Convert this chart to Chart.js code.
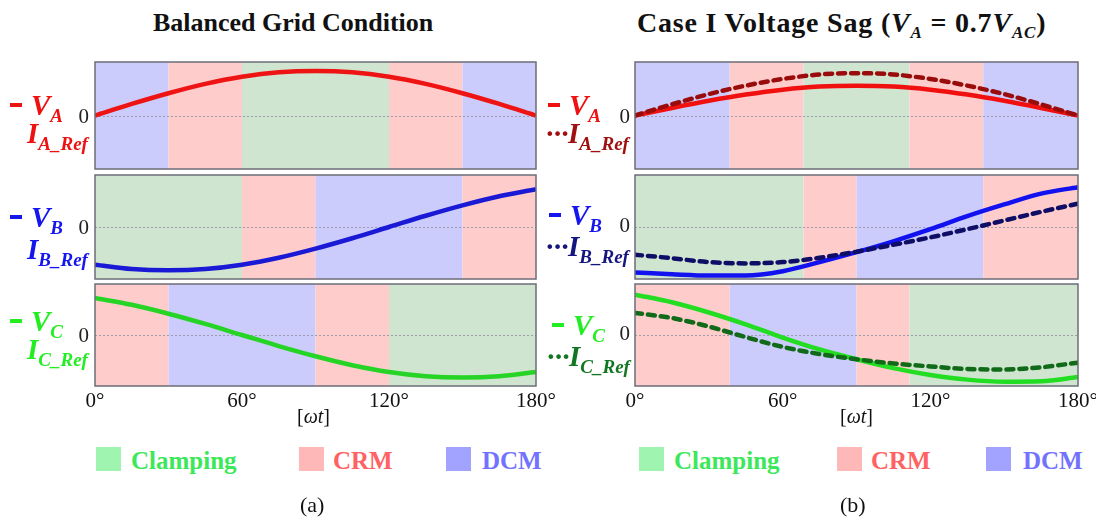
<!DOCTYPE html>
<html>
<head>
<meta charset="utf-8">
<script src="https://cdn.jsdelivr.net/npm/chart.js@4.4.1/dist/chart.umd.min.js"></script>
<style>
    html, body { margin: 0; padding: 0; background: #fff; width: 1096px; height: 523px; overflow: hidden; }
    body { position: relative; font-family: 'Liberation Serif', 'Times New Roman', serif; }
    canvas { position: absolute; }
    .abs { position: absolute; white-space: nowrap; }
    .title { font-weight: bold; font-size: 26px; line-height: 30px; color: #111; }
    .title .s { font-size: 17px; position: relative; top: 6px; }
    .lab { position: absolute; white-space: nowrap; font-weight: bold; font-style: italic; font-size: 29px; line-height: 27px; }
    .lab .s { font-size: 19px; position: relative; top: 7px; }
    .mk { display: inline-block; width: 12px; height: 4px; margin-right: 9px; position: relative; top: -8px; }
    .dots { font-style: normal; margin-right: 0; letter-spacing: -2px; }
    .zero { position: absolute; width: 20px; text-align: right; font-size: 21px; line-height: 22px; color: #222; }
    .sw { position: absolute; width: 25px; height: 24px; }
    .lg { position: absolute; font-weight: bold; font-size: 25px; line-height: 25px; }
    .cap { position: absolute; font-size: 22px; line-height: 22px; color: #111; }
    .wt { position: absolute; font-size: 20px; line-height: 20px; color: #111; }
</style>
</head>
<body>

<!-- (a) balanced grid -->
<canvas id="balA" style="left:40px; top:58px;"></canvas>
<canvas id="balB" style="left:40px; top:171px;"></canvas>
<canvas id="balC" style="left:40px; top:280px;"></canvas>
<!-- (b) voltage sag -->
<canvas id="sagA" style="left:580px; top:58px;"></canvas>
<canvas id="sagB" style="left:580px; top:171px;"></canvas>
<canvas id="sagC" style="left:580px; top:280px;"></canvas>

<div class="abs title" style="left:153px; top:8px;">Balanced Grid Condition</div>
<div class="abs title" style="left:637px; top:8px; font-size:28px; letter-spacing:0.8px;">Case I Voltage Sag (<i>V</i><span class="s"><i>A</i></span> = 0.7<i>V</i><span class="s"><i>AC</i></span>)</div>

<!-- zero labels -->
<div class="zero" style="left:69px; top:105px;">0</div>
<div class="zero" style="left:69px; top:216px;">0</div>
<div class="zero" style="left:69px; top:324px;">0</div>
<div class="zero" style="left:610px; top:105px;">0</div>
<div class="zero" style="left:610px; top:214px;">0</div>
<div class="zero" style="left:610px; top:322px;">0</div>

<!-- left labels -->
<div class="lab" style="left:10px; top:92px; color:#ee1111;"><span class="mk" style="background:#ee1111"></span>V<span class="s">A</span></div>
<div class="lab" style="left:27px; top:120px; color:#ee1111;">I<span class="s">A_Ref</span></div>
<div class="lab" style="left:10px; top:204px; color:#1515ee;"><span class="mk" style="background:#1515ee"></span>V<span class="s">B</span></div>
<div class="lab" style="left:27px; top:236px; color:#1515ee;">I<span class="s">B_Ref</span></div>
<div class="lab" style="left:10px; top:308px; color:#22ee22;"><span class="mk" style="background:#22ee22"></span>V<span class="s">C</span></div>
<div class="lab" style="left:27px; top:336px; color:#22ee22;">I<span class="s">C_Ref</span></div>

<!-- right labels -->
<div class="lab" style="left:548px; top:92px; color:#ee1111;"><span class="mk" style="background:#ee1111"></span>V<span class="s">A</span></div>
<div class="lab" style="left:545px; top:120px; color:#a01010;"><span class="dots">···</span>I<span class="s">A_Ref</span></div>
<div class="lab" style="left:549px; top:202px; color:#1515ee;"><span class="mk" style="background:#1515ee"></span>V<span class="s">B</span></div>
<div class="lab" style="left:545px; top:233px; color:#151580;"><span class="dots">···</span>I<span class="s">B_Ref</span></div>
<div class="lab" style="left:552px; top:312px; color:#22ee22;"><span class="mk" style="background:#22ee22"></span>V<span class="s">C</span></div>
<div class="lab" style="left:546px; top:343px; color:#117722;"><span class="dots">···</span>I<span class="s">C_Ref</span></div>

<!-- x axis titles -->
<div class="wt" style="left:297px; top:406px;">[<i>ωt</i>]</div>
<div class="wt" style="left:840px; top:406px;">[<i>ωt</i>]</div>

<!-- mode legends -->
<div class="sw" style="left:96px; top:447px; background:#9ff5b0;"></div>
<div class="lg" style="left:131px; top:448px; color:#3ce85a;">Clamping</div>
<div class="sw" style="left:299px; top:447px; background:#ffb8b8;"></div>
<div class="lg" style="left:333px; top:448px; color:#ff6262;">CRM</div>
<div class="sw" style="left:446px; top:447px; background:#a2a2ff;"></div>
<div class="lg" style="left:482px; top:448px; color:#7272ff;">DCM</div>

<div class="sw" style="left:639px; top:447px; background:#9ff5b0;"></div>
<div class="lg" style="left:674px; top:448px; color:#3ce85a;">Clamping</div>
<div class="sw" style="left:837px; top:447px; background:#ffb8b8;"></div>
<div class="lg" style="left:871px; top:448px; color:#ff6262;">CRM</div>
<div class="sw" style="left:986px; top:447px; background:#a2a2ff;"></div>
<div class="lg" style="left:1023px; top:448px; color:#7272ff;">DCM</div>

<div class="cap" style="left:300px; top:494px;">(a)</div>
<div class="cap" style="left:840px; top:494px;">(b)</div>

<script>
// phase angle [deg], sampled every 15 degrees
const theta = [0, 15, 30, 45, 60, 75, 90, 105, 120, 135, 150, 165, 180];
const xTickStep = 60;

// (a) balanced grid: V and I_ref overlap
const balVA = [0, 0.26, 0.5, 0.71, 0.87, 0.97, 1.0, 0.97, 0.87, 0.71, 0.5, 0.26, 0];
const balVB = [-0.87, -0.97, -1.0, -0.97, -0.87, -0.71, -0.5, -0.26, 0, 0.26, 0.5, 0.71, 0.87];
const balVC = [0.87, 0.71, 0.5, 0.26, 0, -0.26, -0.5, -0.71, -0.87, -0.97, -1.0, -0.97, -0.87];

// (b) case I voltage sag
const sagVA = [0, 0.17, 0.33, 0.47, 0.58, 0.65, 0.67, 0.65, 0.58, 0.47, 0.33, 0.17, 0];
const sagIA = [0, 0.25, 0.48, 0.67, 0.82, 0.92, 0.95, 0.92, 0.82, 0.67, 0.48, 0.25, 0];
const sagVB = [-1.05, -1.09, -1.12, -1.12, -1.02, -0.81, -0.58, -0.33, -0.05, 0.25, 0.52, 0.77, 0.92];
const sagIB = [-0.64, -0.72, -0.81, -0.84, -0.81, -0.71, -0.57, -0.41, -0.24, -0.05, 0.15, 0.35, 0.54];
const sagVC = [0.95, 0.77, 0.53, 0.25, -0.06, -0.34, -0.57, -0.78, -0.94, -1.05, -1.10, -1.09, -0.99];
const sagIC = [0.52, 0.40, 0.20, -0.05, -0.28, -0.45, -0.57, -0.67, -0.74, -0.80, -0.81, -0.76, -0.65];

// operating mode intervals [deg]
const balEdgesA = [0, 30, 60, 120, 150, 180];
const balModesA = ['DCM', 'CRM', 'Clamping', 'CRM', 'DCM'];
const balEdgesB = [0, 60, 90, 150, 180];
const balModesB = ['Clamping', 'CRM', 'DCM', 'CRM'];
const balEdgesC = [0, 30, 90, 120, 180];
const balModesC = ['CRM', 'DCM', 'CRM', 'Clamping'];

const sagEdgesA = [0, 38.5, 68.5, 111.5, 141.5, 180];
const sagModesA = ['DCM', 'CRM', 'Clamping', 'CRM', 'DCM'];
const sagEdgesB = [0, 68.5, 90, 141.5, 180];
const sagModesB = ['Clamping', 'CRM', 'DCM', 'CRM'];
const sagEdgesC = [0, 38.5, 90, 111.5, 180];
const sagModesC = ['CRM', 'DCM', 'CRM', 'Clamping'];

const modeFill = { Clamping: '#cfe5cf', CRM: '#ffcccc', DCM: '#ccccfc' };

const serif = "'Liberation Serif', 'Times New Roman', serif";

// shaded mode bands, zero line and frame
const bandsPlugin = {
    id: 'bands',
    beforeDatasetsDraw(chart, args, opts) {
        const { ctx, chartArea: a, scales: { x, y } } = chart;
        ctx.save();
        for (let i = 0; i < opts.modes.length; i++) {
            const x0 = x.getPixelForValue(opts.edges[i]);
            const x1 = x.getPixelForValue(opts.edges[i + 1]);
            ctx.fillStyle = modeFill[opts.modes[i]];
            ctx.fillRect(x0, a.top, x1 - x0, a.bottom - a.top);
        }
        const y0 = Math.round(y.getPixelForValue(0)) + 0.5;
        ctx.strokeStyle = '#9c9cac';
        ctx.lineWidth = 1;
        ctx.setLineDash([2, 2]);
        ctx.beginPath();
        ctx.moveTo(a.left, y0);
        ctx.lineTo(a.right, y0);
        ctx.stroke();
        ctx.restore();
    },
    afterDraw(chart) {
        const { ctx, chartArea: a } = chart;
        ctx.save();
        ctx.strokeStyle = '#6c6c78';
        ctx.lineWidth = 1.5;
        ctx.strokeRect(a.left, a.top, a.right - a.left, a.bottom - a.top);
        ctx.restore();
    }
};

function pts(vals) {
    return theta.map((t, i) => ({ x: t, y: vals[i] }));
}

function solid(vals, color) {
    return {
        data: pts(vals), borderColor: color, borderWidth: 4.5,
        pointRadius: 0, cubicInterpolationMode: 'monotone', order: 1
    };
}

function dashed(vals, color) {
    return {
        data: pts(vals), borderColor: color, borderWidth: 4.5,
        borderDash: [7, 6], borderCapStyle: 'round',
        pointRadius: 0, cubicInterpolationMode: 'monotone', order: 0
    };
}

function makePanel(id, width, height, datasets, edges, modes, bottom) {
    const cv = document.getElementById(id);
    cv.width = width;
    cv.height = height;
    new Chart(cv.getContext('2d'), {
        type: 'line',
        data: { datasets: datasets },
        options: {
            responsive: false,
            animation: false,
            events: [],
            layout: { padding: { top: 4, bottom: bottom ? 0 : 4, right: 24, left: 0 } },
            scales: {
                x: {
                    type: 'linear', min: 0, max: 180,
                    display: bottom,
                    grid: { display: false, drawTicks: false },
                    border: { display: false },
                    ticks: {
                        stepSize: xTickStep, padding: 3, color: '#111',
                        font: { family: serif, size: 21 },
                        maxRotation: 0,
                        callback: v => v + '°'
                    },
                    afterFit: s => { if (bottom) s.height = 34; }
                },
                y: {
                    min: -1.2, max: 1.2,
                    grid: { display: false, drawTicks: false },
                    border: { display: false },
                    ticks: { display: false },
                    afterFit: s => { s.width = 55; }
                }
            },
            plugins: {
                legend: { display: false },
                tooltip: { enabled: false },
                bands: { edges: edges, modes: modes }
            }
        },
        plugins: [bandsPlugin]
    });
}

// (a) balanced grid condition
makePanel('balA', 520, 115, [solid(balVA, '#ee1414')], balEdgesA, balModesA, false);
makePanel('balB', 520, 112, [solid(balVB, '#1a1ad6')], balEdgesB, balModesB, false);
makePanel('balC', 520, 140, [solid(balVC, '#26d426')], balEdgesC, balModesC, true);

// (b) case I voltage sag
makePanel('sagA', 522, 115, [solid(sagVA, '#f01010'), dashed(sagIA, '#9a0c0c')], sagEdgesA, sagModesA, false);
makePanel('sagB', 522, 112, [solid(sagVB, '#1212f0'), dashed(sagIB, '#0e0e66')], sagEdgesB, sagModesB, false);
makePanel('sagC', 522, 140, [solid(sagVC, '#22dd22'), dashed(sagIC, '#106a18')], sagEdgesC, sagModesC, true);
</script>
</body>
</html>
